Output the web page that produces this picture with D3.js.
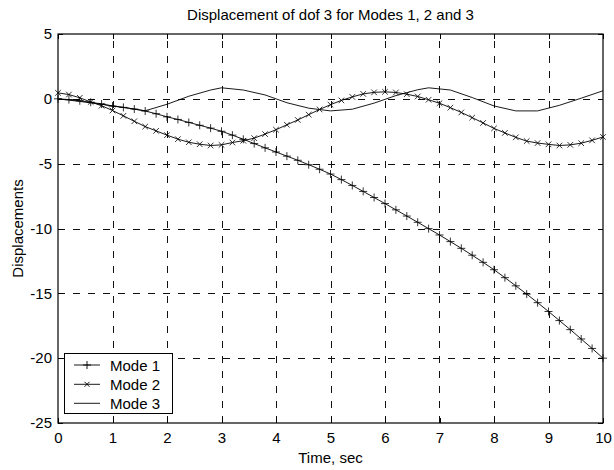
<!DOCTYPE html>
<html>
<head>
<meta charset="utf-8">
<script src="https://cdn.jsdelivr.net/npm/d3@7"></script>
<style>
  html, body { margin: 0; padding: 0; background: #fff; }
  svg { display: block; }
  text { font-family: "Liberation Sans", Arial, sans-serif; font-size: 15px; fill: #000; }
</style>
</head>
<body>
<svg id="chart" width="614" height="470"></svg>
<script>
// ---- data ----
const titleText = "Displacement of dof 3 for Modes 1, 2 and 3";
const xLabel = "Time, sec";
const yLabel = "Displacements";
const xTicks = [0, 1, 2, 3, 4, 5, 6, 7, 8, 9, 10];
const yTicks = [5, 0, -5, -10, -15, -20, -25];
const seriesNames = ["Mode 1", "Mode 2", "Mode 3"];

// sampled times for modes 1 and 2 (step 0.2 s)
const time = [0,0.2,0.4,0.6,0.8,1,1.2,1.4,1.6,1.8,2,2.2,2.4,2.6,2.8,3,3.2,3.4,3.6,3.8,4,
  4.2,4.4,4.6,4.8,5,5.2,5.4,5.6,5.8,6,6.2,6.4,6.6,6.8,7,7.2,7.4,7.6,7.8,8,
  8.2,8.4,8.6,8.8,9,9.2,9.4,9.6,9.8,10];
const mode1 = [0,-0.06,-0.15,-0.26,-0.40,-0.56,-0.66,-0.79,-0.94,-1.15,-1.39,-1.59,-1.82,-2.04,-2.26,-2.50,
  -2.80,-3.12,-3.45,-3.78,-4.10,-4.42,-4.74,-5.08,-5.43,-5.80,-6.23,-6.68,-7.14,-7.61,-8.08,
  -8.56,-9.04,-9.52,-10.01,-10.50,-11.01,-11.53,-12.06,-12.61,-13.18,-13.79,-14.42,-15.06,-15.72,
  -16.40,-17.10,-17.80,-18.52,-19.25,-20.0];
const mode2 = [0.46,0.33,0.08,-0.24,-0.53,-0.90,-1.31,-1.73,-2.14,-2.47,-2.80,-3.11,-3.35,-3.50,-3.60,
  -3.55,-3.37,-3.23,-3.03,-2.72,-2.38,-2.00,-1.63,-1.22,-0.82,-0.45,-0.12,0.15,0.38,0.50,0.54,
  0.49,0.36,0.18,-0.07,-0.34,-0.68,-1.05,-1.45,-1.86,-2.28,-2.63,-2.97,-3.26,-3.41,-3.51,-3.60,
  -3.55,-3.42,-3.20,-2.94];
// mode 3 drawn as a plain polyline through these vertices
const time3 = [0,0.4,0.8,1.2,1.6,2.0,2.4,2.8,3.0,3.4,3.8,4.2,4.6,5.0,5.4,5.8,6.2,6.6,6.8,7.2,7.6,8.0,8.4,8.8,9.2,9.6,10];
const mode3 = [0,-0.2,-0.42,-0.66,-0.92,-0.42,0.2,0.68,0.85,0.68,0.3,-0.3,-0.72,-0.93,-0.8,-0.33,0.25,0.7,0.85,0.68,0.1,-0.55,-0.93,-0.93,-0.5,0.05,0.62];

// ---- chart ----
const svg = d3.select("#chart");
const L = 58, R = 603, T = 34, B = 423;
const FS = 15;
const x = d3.scaleLinear().domain([0, 10]).range([L, R]);
const y = d3.scaleLinear().domain([-25, 5]).range([B, T]);

// grid
const grid = svg.append("g").attr("stroke", "#111").attr("stroke-width", 1)
  .attr("stroke-dasharray", "7,8").attr("shape-rendering", "crispEdges");
grid.selectAll("line.v").data(xTicks.slice(1, -1)).join("line")
  .attr("x1", d => Math.round(x(d)) + 0.5).attr("x2", d => Math.round(x(d)) + 0.5)
  .attr("y1", B).attr("y2", T);
grid.selectAll("line.h").data(yTicks.slice(1, -1)).join("line")
  .attr("x1", L).attr("x2", R)
  .attr("y1", d => Math.round(y(d)) + 0.5).attr("y2", d => Math.round(y(d)) + 0.5);

// axes (ticks inside)
const axB = d3.axisBottom(x).tickValues(xTicks).tickSize(-5).tickPadding(9).tickFormat(d3.format("d"));
const axL = d3.axisLeft(y).tickValues(yTicks).tickSize(-5).tickPadding(6).tickFormat(d => d < 0 ? "-" + Math.abs(d) : d);
const axT = d3.axisTop(x).tickValues(xTicks).tickSize(-5).tickFormat("");
const axR = d3.axisRight(y).tickValues(yTicks).tickSize(-5).tickFormat("");
function style(g) {
  g.select(".domain").remove();
  g.selectAll("line").attr("stroke", "#000").attr("shape-rendering", "crispEdges");
  g.selectAll("text").attr("font-size", FS).attr("font-family", "Liberation Sans, Arial, sans-serif").attr("fill", "#000");
}
svg.append("g").attr("transform", `translate(0,${B})`).call(axB).call(style);
svg.append("g").attr("transform", `translate(${L},0)`).call(axL).call(style);
svg.append("g").attr("transform", `translate(0,${T})`).call(axT).call(style);
svg.append("g").attr("transform", `translate(${R},0)`).call(axR).call(style);

// box
svg.append("rect").attr("x", L).attr("y", T).attr("width", R - L).attr("height", B - T)
  .attr("fill", "none").attr("stroke", "#000").attr("stroke-width", 1.2);

// lines
const line = d3.line().x(d => x(d[0])).y(d => y(d[1]));
const d1 = time.map((t, i) => [t, mode1[i]]);
const d2 = time.map((t, i) => [t, mode2[i]]);
const d3d = time3.map((t, i) => [t, mode3[i]]);
svg.append("path").datum(d3d).attr("d", line).attr("fill", "none").attr("stroke", "#000").attr("stroke-width", 0.9);
svg.append("path").datum(d2).attr("d", line).attr("fill", "none").attr("stroke", "#000").attr("stroke-width", 0.9);
svg.append("path").datum(d1).attr("d", line).attr("fill", "none").attr("stroke", "#000").attr("stroke-width", 0.9);

function plusMarker(g, cx, cy, s) {
  g.append("line").attr("x1", cx - s).attr("x2", cx + s).attr("y1", cy).attr("y2", cy);
  g.append("line").attr("x1", cx).attr("x2", cx).attr("y1", cy - s).attr("y2", cy + s);
}
function xMarker(g, cx, cy, s) {
  g.append("line").attr("x1", cx - s).attr("x2", cx + s).attr("y1", cy - s).attr("y2", cy + s);
  g.append("line").attr("x1", cx - s).attr("x2", cx + s).attr("y1", cy + s).attr("y2", cy - s);
}
const m1 = svg.append("g").attr("stroke", "#000").attr("stroke-width", 0.8);
d1.forEach(d => plusMarker(m1, x(d[0]), y(d[1]), 4));
const m2 = svg.append("g").attr("stroke", "#000").attr("stroke-width", 0.8);
d2.forEach(d => xMarker(m2, x(d[0]), y(d[1]), 2.8));

// title and labels
svg.append("text").attr("x", (L + R) / 2).attr("y", 20).attr("text-anchor", "middle").attr("font-size", FS).text(titleText);
svg.append("text").attr("x", (L + R) / 2).attr("y", 462.5).attr("text-anchor", "middle").attr("font-size", FS).text(xLabel);
svg.append("text").attr("transform", `translate(22.5,${(T + B) / 2}) rotate(-90)`).attr("text-anchor", "middle").attr("font-size", FS).text(yLabel);

// legend
const lg = svg.append("g");
lg.append("rect").attr("x", 64.5).attr("y", 353.5).attr("width", 108).attr("height", 60)
  .attr("fill", "#fff").attr("stroke", "#000").attr("stroke-width", 1);
const rowsY = [365, 384.3, 403.3];
seriesNames.forEach((name, i) => {
  const ry = rowsY[i];
  const g = lg.append("g").attr("stroke", "#000").attr("stroke-width", 0.9);
  g.append("line").attr("x1", 74).attr("x2", 100).attr("y1", ry).attr("y2", ry);
  if (i === 0) plusMarker(g, 87, ry, 4);
  if (i === 1) xMarker(g, 87, ry, 2.5);
  lg.append("text").attr("x", 110).attr("y", ry + 5.5).attr("font-size", FS).text(name);
});
</script>
</body>
</html>
